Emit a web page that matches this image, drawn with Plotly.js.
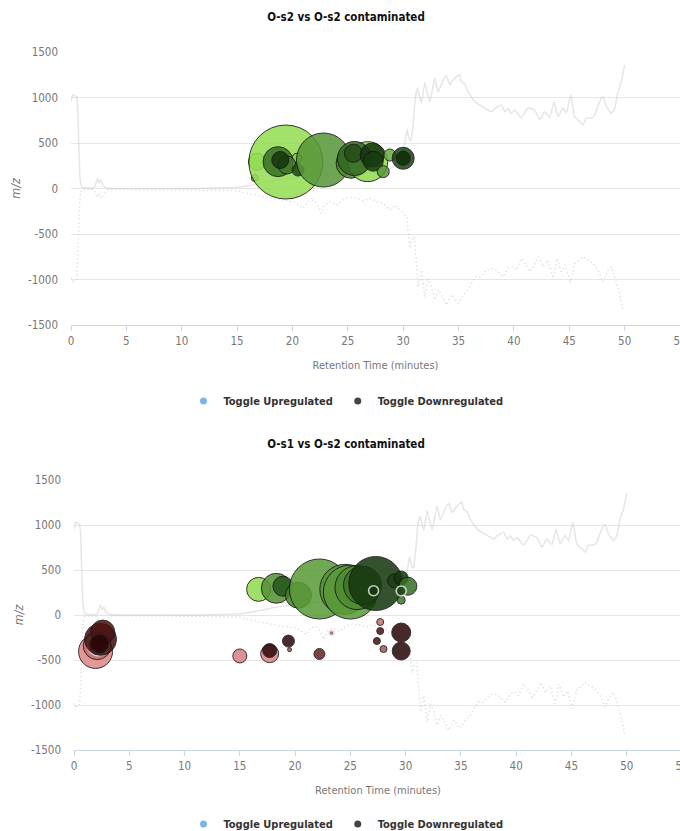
<!DOCTYPE html>
<html>
<head>
<meta charset="utf-8">
<script src="https://cdn.plot.ly/plotly-3.0.1.min.js"></script>
<style>
  html, body { margin: 0; padding: 0; background: #fff; overflow: hidden; width: 680px; height: 831px; position: relative; }
  #chartA { position: absolute; left: 0; top: 0; width: 680px; height: 427px; }
  #chartB { position: absolute; left: 0; top: 427px; width: 682px; height: 430px; }
</style>
</head>
<body>
<div id="chartA"></div>
<div id="chartB"></div>
<script>
// ---- Total ion chromatogram, positive mode (solid) ----
const ticPosTime = [0.0, 0.15, 0.3, 0.5, 0.6, 0.7, 0.8, 0.9, 1.0, 1.3, 1.7, 2.1, 2.4, 2.55, 2.7, 2.85, 3.0, 3.3,
  4, 6, 8, 10, 12, 14, 15, 16, 17, 18, 19, 20, 21, 22, 23, 24, 25, 26, 27, 28, 29, 29.6, 30.0, 30.2, 30.35, 30.5,
  30.7, 30.9, 31.1, 31.3, 31.65, 31.95, 32.4, 32.85, 33.15, 33.6, 33.9, 34.2, 34.5, 34.8, 35.1, 35.25, 35.55,
  35.85, 36.2, 36.46, 36.9, 37.36, 37.97, 38.27, 38.87, 39.17, 39.47, 39.77, 40.07, 40.67, 41.27, 41.88, 42.33,
  42.78, 43.23, 43.62, 43.98, 44.43, 44.73, 45.13, 45.49, 45.94, 46.24, 46.54, 46.99, 47.29, 47.74, 48.04,
  48.35, 48.8, 49.1, 49.4, 49.7, 50.0];
const ticPosValue = [960, 1030, 1020, 1010, 900, 500, 150, 40, 15, 5, 5, 10, 110, 60, 90, 40, 20, 5,
  0, 0, 0, 0, 2, 8, 15, 30, 55, 80, 100, 115, 130, 140, 150, 160, 165, 170, 175, 185, 230, 300, 420, 530, 650, 560,
  520, 700, 1000, 1100, 940, 1160, 950, 1215, 1060, 1190, 1240, 1140, 1190, 1230, 1250, 1170, 1150,
  1064, 1000, 954, 918, 885, 844, 880, 918, 844, 880, 826, 862, 775, 885, 860, 753,
  844, 780, 954, 790, 885, 826, 1027, 790, 735, 698, 775, 775, 810, 954, 1009,
  900, 826, 880, 1064, 1174, 1357];

// ---- Total ion chromatogram, negative mode (dotted) ----
const ticNegTime = [0.0, 0.15, 0.35, 0.5, 0.6, 0.7, 0.8, 0.9, 1.0, 1.5, 2.1, 2.35, 2.55, 2.75, 2.95, 3.2, 3.6,
  5, 8, 10, 12, 14, 15, 15.85, 17.4, 18.9, 20.2, 20.97, 21.4, 21.87, 22.3, 22.6, 22.9, 23.4, 24.0, 24.6, 25.18,
  25.8, 26.4, 27.0, 27.6, 28.2, 28.8, 29.3, 29.84, 30.3, 30.45, 30.6, 30.75, 31.0, 31.2, 31.35, 31.5, 31.65,
  31.95, 32.25, 32.55, 32.85, 33.15, 33.46, 33.9, 34.36, 34.96, 35.4, 35.86, 36.3, 36.6, 37.07, 37.52, 37.97,
  38.42, 39.02, 39.47, 39.92, 40.22, 40.67, 41.13, 41.43, 41.88, 42.24, 42.63, 43.08, 43.53, 43.89, 44.28,
  44.64, 45.1, 45.49, 45.94, 46.24, 46.69, 47.14, 47.59, 48.04, 48.5, 48.8, 49.1, 49.46, 49.85];
const ticNegValue = [-980, -1020, -1010, -1000, -800, -400, -120, -30, -15, -10, -15, -100, -50, -110, -60, -20, -10,
  -10, -10, -15, -15, -20, -25, -53, -90, -126, -145, -218, -145, -126, -181, -273, -181, -145, -181, -126, -97,
  -108, -134, -108, -145, -163, -236, -185, -255, -310, -456, -657, -566, -530, -822, -1079, -1005, -896,
  -1189, -987, -1079, -1225, -1115, -1170, -1280, -1170, -1261, -1170, -1115, -1005, -969, -969, -896, -877,
  -896, -969, -877, -859, -896, -767, -841, -914, -841, -749, -859, -786, -987, -767, -914,
  -841, -1042, -822, -786, -749, -786, -822, -896, -1024, -896, -859, -969, -1115, -1354];

// ---- O-s2 vs O-s2 contaminated: upregulated features ----
const aUpTime  = [16.8, 16.6, 19.4, 20.4, 18.7, 19.5, 18.9, 20.5, 22.8, 25.3, 26.8, 25.6, 25.5, 27.2, 27.3, 28.2, 28.8, 30.0, 30.0];
const aUpMz    = [295, 115, 291, 332, 295, 258, 313, 203, 313, 277, 295, 330, 387, 368, 300, 185, 368, 332, 332];
const aUpAbund = [1.7, 0.7, 7.4, 1.0, 3.0, 1.8, 1.7, 1.2, 5.4, 3.0, 4.0, 3.4, 1.8, 2.4, 2.0, 1.2, 1.2, 2.2, 1.4];
const aUpFold  = [0.5, 1.0, 0.3, 0.8, 4.5, 4.0, 7.0, 6.0, 2.8, 3.5, 0.4, 4.8, 5.8, 7.2, 6.8, 2.8, 2.0, 6.3, 7.5];
const aUpSelected = [0, 0, 0, 0, 0, 0, 0, 0, 0, 0, 0, 0, 0, 0, 0, 0, 0, 0, 0];

// ---- O-s1 vs O-s2 contaminated: upregulated features ----
const bUpTime  = [16.7, 18.3, 18.9, 20.3, 22.2, 24.5, 25.0, 25.6, 26.1, 27.3, 27.1, 29.0, 29.6, 30.2, 29.6, 29.6];
const bUpMz    = [285, 297, 320, 220, 289, 285, 255, 305, 330, 350, 270, 380, 410, 320, 165, 267];
const bUpAbund = [2.4, 3.0, 2.0, 2.6, 6.0, 5.0, 5.4, 4.4, 3.8, 5.4, 1.0, 1.4, 1.4, 1.8, 0.8, 1.0];
const bUpFold  = [0.4, 3.0, 5.5, 3.8, 2.6, 2.9, 2.6, 3.3, 4.2, 7.0, 7.0, 6.5, 7.0, 4.5, 4.0, 6.0];
const bUpSelected = [0, 0, 0, 0, 0, 0, 0, 0, 0, 0, 1, 0, 0, 0, 0, 1];

// ---- O-s1 vs O-s2 contaminated: downregulated features ----
const bDownTime  = [1.95, 2.1, 2.2, 2.4, 2.6, 2.3, 15.0, 17.7, 17.7, 19.4, 19.5, 22.2, 23.3, 27.7, 27.7, 27.4, 28.0, 29.6, 29.6];
const bDownMz    = [-405, -340, -330, -270, -190, -320, -455, -430, -395, -290, -385, -433, -200, -78, -178, -289, -378, -195, -400];
const bDownAbund = [3.4, 2.8, 2.2, 3.2, 2.4, 1.8, 1.4, 1.8, 1.4, 1.2, 0.4, 1.1, 0.5, 0.7, 0.7, 0.7, 0.7, 1.9, 1.8];
const bDownFold  = [0.5, 2.0, 2.5, 6.5, 6.0, 7.8, 1.0, 0.8, 7.5, 7.5, 3.0, 5.0, 3.0, 2.0, 6.0, 6.0, 3.0, 7.8, 7.8];
const bDownSelected = [0, 0, 1, 0, 0, 0, 0, 0, 0, 0, 0, 0, 1, 0, 0, 0, 0, 0, 0];

// ---- axis ticks and legend labels ----
const xTickVals = [0, 5, 10, 15, 20, 25, 30, 35, 40, 45, 50, 55];
const xTickText = ['0', '5', '10', '15', '20', '25', '30', '35', '40', '45', '50', '55'];
const yTickVals = [-1500, -1000, -500, 0, 500, 1000, 1500];
const yTickText = ['-1500', '-1000', '-500', '0', '500', '1000', '1500'];
const legendLabels = ['Toggle Upregulated', 'Toggle Downregulated'];

const NARROW = '"Liberation Sans Narrow", "Arial Narrow", "DejaVu Sans Condensed", sans-serif';
const GREENS = [[0, '#9be655'], [0.3, '#5e9f3b'], [0.55, '#3a7126'], [0.75, '#1f4914'], [1, '#0b2307']];
const REDS   = [[0, '#e98f8f'], [0.3, '#bf6868'], [0.55, '#7a2d2d'], [0.75, '#4a1313'], [1, '#240404']];

function ticTraces() {
  return [
    { type: 'scatter', mode: 'lines', x: ticPosTime, y: ticPosValue, hoverinfo: 'skip', showlegend: false,
      line: { color: 'rgba(205,205,205,0.5)', width: 1.5, shape: 'spline', smoothing: 0.4 } },
    { type: 'scatter', mode: 'lines', x: ticNegTime, y: ticNegValue, hoverinfo: 'skip', showlegend: false,
      line: { color: 'rgba(205,205,205,0.6)', width: 1.4, dash: '1.5px,2.5px' } }
  ];
}

function bubbles(x, y, abund, fold, selected, scale, group) {
  return {
    type: 'scatter', mode: 'markers', x: x, y: y, showlegend: false, legendgroup: group,
    marker: {
      size: abund, sizemode: 'diameter', sizeref: 0.1,
      color: fold, colorscale: scale, cmin: 0, cmax: 8, showscale: false,
      opacity: 0.86,
      line: {
        color: selected.map(s => s ? '#e2e2e2' : '#141414'),
        width: selected.map(s => s ? 1.6 : 1)
      }
    },
    hovertemplate: 'RT %{x} min<br>m/z %{y}<extra></extra>'
  };
}

function legendTraces() {
  return [
    { type: 'scatter', mode: 'markers', x: [null], y: [null], name: legendLabels[0], legendgroup: 'up',
      marker: { color: '#7cb5ec', size: 7 } },
    { type: 'scatter', mode: 'markers', x: [null], y: [null], name: legendLabels[1], legendgroup: 'down',
      marker: { color: '#434348', size: 7 } }
  ];
}

function makeLayout(title, width, height, m, plotH, legendGap) {
  return {
    width: width, height: height,
    margin: m,
    paper_bgcolor: '#fff', plot_bgcolor: '#fff',
    font: { family: NARROW, color: '#666' },
    title: {
      text: title, xref: 'container', yref: 'container',
      x: 346 / width, xanchor: 'center', y: 1 - 17 / height, yanchor: 'middle',
      font: { family: NARROW, size: 11.5, color: '#111', weight: 'bold' }
    },
    xaxis: {
      range: [0, 55], tickvals: xTickVals, ticktext: xTickText, ticklabeloverflow: 'allow',
      showgrid: false, zeroline: false, showline: true, linecolor: '#ccd6eb', linewidth: 1,
      ticks: 'outside', ticklen: 5, tickcolor: '#ccd6eb',
      tickfont: { family: NARROW, size: 11.5, color: '#777' },
      title: { text: 'Retention Time (minutes)', standoff: 14, font: { family: NARROW, size: 11, color: '#777' } },
      fixedrange: true
    },
    yaxis: {
      range: [-1500, 1500], tickvals: yTickVals, ticktext: yTickText,
      showgrid: true, gridcolor: '#e6e6e6', gridwidth: 1, zeroline: false, showline: false,
      ticks: '', ticklabelstandoff: 12,
      tickfont: { family: NARROW, size: 11.5, color: '#777' },
      title: { text: 'm/z', standoff: 4, font: { family: NARROW, size: 12.5, color: '#777', style: 'italic' } },
      fixedrange: true
    },
    showlegend: true,
    legend: {
      orientation: 'h', x: (346 - m.l) / (width - m.l - m.r), xanchor: 'center',
      y: -legendGap / plotH, yanchor: 'middle',
      font: { family: NARROW, size: 11, color: '#333', weight: 'bold' },
      itemwidth: 30, bgcolor: 'rgba(0,0,0,0)'
    },
    hovermode: 'closest'
  };
}

const config = { displayModeBar: false, responsive: false };

Plotly.newPlot('chartA',
  ticTraces().concat([
    bubbles(aUpTime, aUpMz, aUpAbund, aUpFold, aUpSelected, GREENS, 'up')
  ], legendTraces()),
  makeLayout('O-s2 vs O-s2 contaminated', 680, 427, { l: 71, r: 0, t: 52, b: 102 }, 273, 76),
  config);

Plotly.newPlot('chartB',
  ticTraces().concat([
    bubbles(bUpTime, bUpMz, bUpAbund, bUpFold, bUpSelected, GREENS, 'up'),
    bubbles(bDownTime, bDownMz, bDownAbund, bDownFold, bDownSelected, REDS, 'down')
  ], legendTraces()),
  makeLayout('O-s1 vs O-s2 contaminated', 682, 430, { l: 74, r: 0, t: 53, b: 107 }, 270, 74),
  config);
</script>
</body>
</html>
